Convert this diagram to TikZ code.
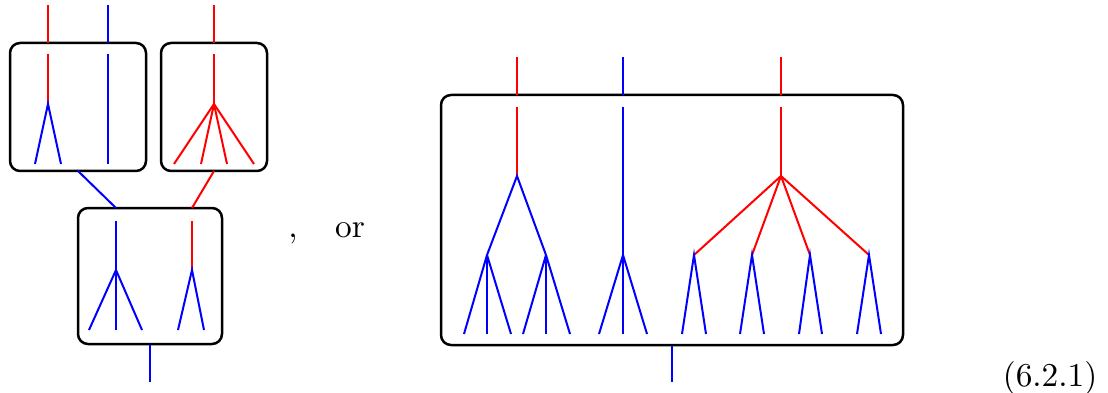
\documentclass[tikz,border=0pt]{standalone}
\begin{document}
\begin{tikzpicture}[x=0.3pt,y=-0.3pt,
  box/.style={draw=black,line width=0.75pt,rounded corners=3pt},
  rw/.style={draw=red,line width=0.6pt},
  bw/.style={draw=blue,line width=0.6pt}]
\useasboundingbox (0,0) rectangle (1108,393);
% ---------- left-top box A
\node[box,minimum width=40.8pt,minimum height=38.4pt,inner sep=0pt] (A) at (78,107) {};
\node[box,minimum width=31.8pt,minimum height=38.4pt,inner sep=0pt] (B) at (214,107) {};
\node[box,minimum width=43.2pt,minimum height=40.8pt,inner sep=0pt] (C) at (150,276) {};
\node[box,minimum width=138.6pt,minimum height=75pt,inner sep=0pt] (D) at (672,220) {};
% outer wires
\coordinate (a1) at (48,5); \coordinate (a2) at (108,5); \coordinate (b1) at (214,5);
\draw[rw] (a1) -- (48,43);
\draw[bw] (a2) -- (108,43);
\draw[rw] (b1) -- (214,43);
% A inside
\coordinate (ar) at (48,104);
\draw[rw] (48,54) -- (ar);
\draw[bw] (35,164) -- (ar) -- (61,164);
\draw[bw] (108,54) -- (108,164);
% B inside
\coordinate (br) at (214,104);
\draw[rw] (214,54) -- (br);
\foreach \x in {174,201,227,254} \draw[rw] (br) -- (\x,164);
% connectors to C
\draw[bw] (78,171) -- (116,208);
\draw[rw] (214,171) -- (192,208);
% C inside
\coordinate (cb) at (116,270); \coordinate (cr) at (192,270);
\draw[bw] (116,221) -- (cb);
\foreach \x in {89,116,142} \draw[bw] (cb) -- (\x,330);
\draw[rw] (192,221) -- (cr);
\draw[bw] (178,330) -- (cr) -- (204,330);
\draw[bw] (C.south) -- (150,382);
% text
\node[inner sep=0pt,anchor=base] (comma) at (293,237) {,};
\node[inner sep=0pt,anchor=base] (or) at (350,237) {or};
\node[inner sep=0pt,anchor=base] (eq) at (1050,386) {(6.2.1)};
% D outer wires
\draw[rw] (517,57) -- (517,95);
\draw[bw] (623,57) -- (623,95);
\draw[rw] (781,57) -- (781,95);
\draw[bw] (D.south) -- (672,382);
% D inside, first tree
\coordinate (d1) at (517,176); \coordinate (d11) at (487,255); \coordinate (d12) at (546,255);
\draw[rw] (517,107) -- (d1);
\draw[bw] (d11) -- (d1) -- (d12);
\foreach \x in {464,487,511} \draw[bw] (d11) -- (\x,334);
\foreach \x in {523,546,570} \draw[bw] (d12) -- (\x,334);
% second
\coordinate (d2) at (623,255);
\draw[bw] (623,107) -- (d2);
\foreach \x in {599,623,647} \draw[bw] (d2) -- (\x,334);
% third
\coordinate (d3) at (781,176);
\draw[rw] (781,107) -- (d3);
\foreach \p/\l/\r in {694/682/706,752/740/764,810/799/822,869/857/881}{
  \draw[rw] (d3) -- (\p,255);
  \draw[bw] (\l,334) -- (\p,255) -- (\r,334);
}
\end{tikzpicture}
\end{document}
